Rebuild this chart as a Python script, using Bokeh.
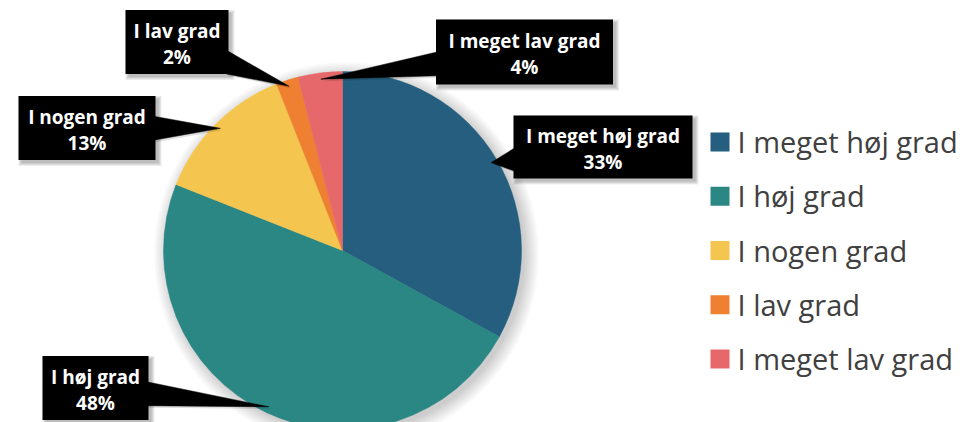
import numpy as np
from bokeh.plotting import figure
from bokeh.models import Range1d
from bokeh.embed import file_html
from bokeh.resources import INLINE
from bokeh.core.properties import value

# ---- data ----
categories = ["I meget høj grad", "I høj grad", "I nogen grad", "I lav grad", "I meget lav grad"]
percent = [33, 48, 13, 2, 4]
colors = ["#255E7E", "#2A8784", "#F5C64F", "#EF7F31", "#E6686A"]

# ---- layout (screen pixels, y measured from top) ----
W, H = 960, 422
CX, CY, R = 342, 250, 179
box_cx = [602.5, 95, 86.5, 176.5, 524]
box_cy = [146.5, 387.5, 127.5, 41.5, 51.5]
box_w = [179, 106, 137, 103, 177]
box_h = [63, 64, 64, 64, 65]
LEG_X, LEG_Y0, LEG_DY = 719.5, 141.5, 54.25

def Y(s):
    return H - np.asarray(s, dtype=float)

p = figure(width=W, height=H, x_range=Range1d(0, W), y_range=Range1d(0, H),
           output_backend="svg", toolbar_location=None, min_border=0,
           x_axis_location=None, y_axis_location=None)
p.grid.visible = False
p.outline_line_color = None
p.background_fill_color = "white"
p.border_fill_color = "white"

frac = np.array(percent, dtype=float) / sum(percent)
cum = np.concatenate([[0.0], np.cumsum(frac)])
start = np.pi / 2 - 2 * np.pi * cum[:-1]
end = np.pi / 2 - 2 * np.pi * cum[1:]
mid = (start + end) / 2

# pie shadow
for k in range(10):
    p.circle(x=CX + 4, y=Y(CY) - 4, radius=R + k * 1.5, fill_color="black",
             fill_alpha=0.018, line_color=None)

p.wedge(x=CX, y=Y(CY), radius=R, start_angle=start, end_angle=end, direction="clock",
        fill_color=colors, line_color=colors, line_width=0.5)

# callouts
tips_x = CX + 0.965 * R * np.cos(mid)
tips_y = Y(CY) + 0.965 * R * np.sin(mid)
tri_xs, tri_ys = [], []
for i in range(len(categories)):
    cx, cy = box_cx[i], float(Y(box_cy[i]))
    hw, hh = box_w[i] / 2, box_h[i] / 2
    dx, dy = tips_x[i] - cx, tips_y[i] - cy
    tx = hw / abs(dx) if dx != 0 else 1e9
    ty = hh / abs(dy) if dy != 0 else 1e9
    if tx < ty:
        ex = cx + np.sign(dx) * hw
        ey = cy + dy * tx
        e1 = min(max(ey - 12, cy - hh), cy + hh)
        e2 = min(max(ey + 12, cy - hh), cy + hh)
        xs = [ex - np.sign(dx) * 2, ex - np.sign(dx) * 2, tips_x[i]]
        ys = [e1, e2, tips_y[i]]
    else:
        ey = cy + np.sign(dy) * hh
        ex = cx + dx * ty
        e1 = min(max(ex - 12, cx - hw), cx + hw)
        e2 = min(max(ex + 12, cx - hw), cx + hw)
        xs = [e1, e2, tips_x[i]]
        ys = [ey - np.sign(dy) * 2, ey - np.sign(dy) * 2, tips_y[i]]
    tri_xs.append(xs)
    tri_ys.append(ys)

# box shadows
for k in range(4):
    p.rect(x=np.array(box_cx) + 3, y=Y(box_cy) - 3, width=np.array(box_w) + 2 * k,
           height=np.array(box_h) + 2 * k, fill_color="black", fill_alpha=0.07, line_color=None)
p.patches(xs=[[x + 2 for x in xs] for xs in tri_xs], ys=[[y - 2 for y in ys] for ys in tri_ys],
          fill_color="black", fill_alpha=0.12, line_color=None)

p.patches(xs=tri_xs, ys=tri_ys, fill_color="black", line_color="black", line_width=0.5)
p.rect(x=box_cx, y=Y(box_cy), width=box_w, height=box_h, fill_color="black", line_color=None)

line2 = [f"{v}%" for v in percent]
p.text(x=box_cx, y=Y(np.array(box_cy) - 11.5), text=categories, text_font=value("Open Sans"),
       text_font_style="bold", text_font_size="19px", text_color="white",
       text_align="center", text_baseline="middle")
p.text(x=box_cx, y=Y(np.array(box_cy) + 15), text=line2, text_font=value("Open Sans"),
       text_font_style="bold", text_font_size="19px", text_color="white",
       text_align="center", text_baseline="middle")

# legend
rows = LEG_Y0 + LEG_DY * np.arange(len(categories))
p.rect(x=LEG_X, y=Y(rows), width=19, height=19, fill_color=colors, line_color=None)
p.text(x=LEG_X + 17.5, y=Y(rows - 0.5), text=categories, text_font=value("Open Sans"),
       text_font_size="29px", text_color="#404040", text_align="left",
       text_baseline="middle")

open("out.html", "w").write(file_html(p, INLINE))
